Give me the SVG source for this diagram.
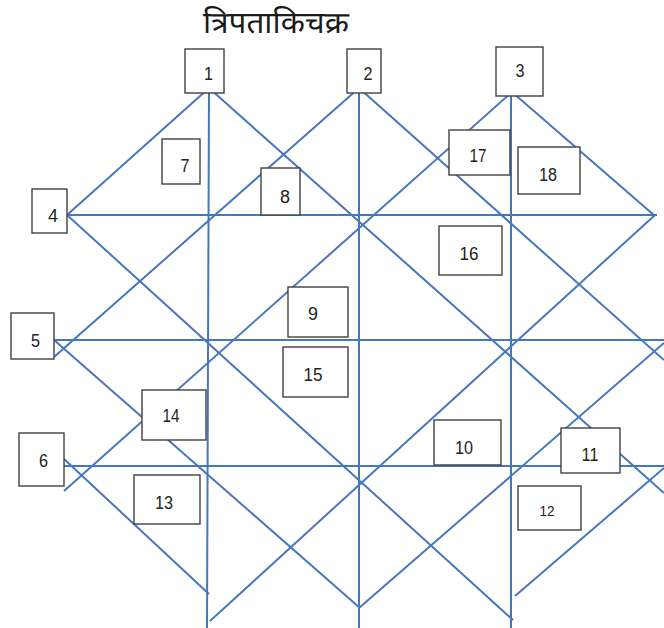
<svg xmlns="http://www.w3.org/2000/svg" width="664" height="628" viewBox="0 0 664 628">
<style>
.ln{stroke:#4677be;stroke-width:2;fill:none}
.bx rect{fill:#fff;stroke:#404040;stroke-width:1.4}
.bx text{font-family:"Liberation Sans",Arial,sans-serif;font-size:18px;fill:#222;text-anchor:middle}
.title{font-family:"Noto Sans Devanagari","Noto Sans","Lohit Devanagari",sans-serif;font-size:30px;fill:#1a1a1a;text-anchor:middle}
</style>
<rect width="664" height="628" fill="#fff"/>
<text class="title" x="276" y="33" textLength="146" lengthAdjust="spacingAndGlyphs">त्रिपताकिचक्र</text>
<g id="connectors">
<line class="ln" x1="67" y1="215" x2="657" y2="215"/>
<line class="ln" x1="54" y1="340" x2="664" y2="340"/>
<line class="ln" x1="64" y1="466" x2="664" y2="466"/>
<line class="ln" x1="209" y1="88" x2="207" y2="628"/>
<line class="ln" x1="359" y1="88" x2="359" y2="628"/>
<line class="ln" x1="511" y1="87" x2="511" y2="628"/>
<line class="ln" x1="209" y1="88" x2="67" y2="215"/>
<line class="ln" x1="209" y1="88" x2="664" y2="493"/>
<line class="ln" x1="359" y1="88" x2="54" y2="357"/>
<line class="ln" x1="359" y1="88" x2="664" y2="360"/>
<line class="ln" x1="512" y1="92" x2="64" y2="491"/>
<line class="ln" x1="512" y1="92" x2="655" y2="216"/>
<line class="ln" x1="67" y1="215" x2="513" y2="620"/>
<line class="ln" x1="54" y1="340" x2="360" y2="608"/>
<line class="ln" x1="64" y1="459" x2="209" y2="594"/>
<line class="ln" x1="655" y1="215" x2="210" y2="621"/>
<line class="ln" x1="359" y1="608" x2="664" y2="343"/>
<line class="ln" x1="515" y1="596" x2="664" y2="468"/>
</g>
<g id="n1" class="bx"><rect x="185" y="49" width="39" height="44"/><text x="208.5" y="80" textLength="9" lengthAdjust="spacingAndGlyphs">1</text></g>
<g id="n2" class="bx"><rect x="347" y="49" width="34" height="44"/><text x="368" y="80" textLength="9" lengthAdjust="spacingAndGlyphs">2</text></g>
<g id="n3" class="bx"><rect x="496" y="47" width="47" height="49"/><text x="520" y="77" textLength="9" lengthAdjust="spacingAndGlyphs">3</text></g>
<g id="n4" class="bx"><rect x="32" y="189" width="35" height="44"/><text x="53" y="222" textLength="10" lengthAdjust="spacingAndGlyphs">4</text></g>
<g id="n5" class="bx"><rect x="11" y="313" width="43" height="46"/><text x="35.5" y="347" textLength="9" lengthAdjust="spacingAndGlyphs">5</text></g>
<g id="n6" class="bx"><rect x="19" y="433" width="45" height="53"/><text x="43.5" y="467" textLength="9" lengthAdjust="spacingAndGlyphs">6</text></g>
<g id="n7" class="bx"><rect x="162" y="139" width="38" height="45"/><text x="185" y="172" textLength="9" lengthAdjust="spacingAndGlyphs">7</text></g>
<g id="n8" class="bx"><rect x="261" y="168" width="39" height="47"/><text x="285" y="203" textLength="10" lengthAdjust="spacingAndGlyphs">8</text></g>
<g id="n9" class="bx"><rect x="288" y="287" width="60" height="50"/><text x="313" y="320" textLength="10" lengthAdjust="spacingAndGlyphs">9</text></g>
<g id="n10" class="bx"><rect x="434" y="420" width="67" height="45"/><text x="464" y="454" textLength="18" lengthAdjust="spacingAndGlyphs">10</text></g>
<g id="n11" class="bx"><rect x="561" y="428" width="59" height="45"/><text x="590" y="461" textLength="17" lengthAdjust="spacingAndGlyphs">11</text></g>
<g id="n12" class="bx"><rect x="518" y="486" width="63" height="44"/><text x="547" y="516" style="font-size:15px" textLength="15" lengthAdjust="spacingAndGlyphs">12</text></g>
<g id="n13" class="bx"><rect x="134" y="475" width="66" height="49"/><text x="164" y="509" textLength="18" lengthAdjust="spacingAndGlyphs">13</text></g>
<g id="n14" class="bx"><rect x="142" y="390" width="64" height="50"/><text x="171" y="422" textLength="17" lengthAdjust="spacingAndGlyphs">14</text></g>
<g id="n15" class="bx"><rect x="283" y="347" width="65" height="50"/><text x="313" y="381" textLength="19" lengthAdjust="spacingAndGlyphs">15</text></g>
<g id="n16" class="bx"><rect x="439" y="226" width="63" height="49"/><text x="469" y="260" textLength="19" lengthAdjust="spacingAndGlyphs">16</text></g>
<g id="n17" class="bx"><rect x="449" y="130" width="61" height="45"/><text x="478" y="162" textLength="17" lengthAdjust="spacingAndGlyphs">17</text></g>
<g id="n18" class="bx"><rect x="518" y="147" width="62" height="47"/><text x="548" y="181" textLength="18" lengthAdjust="spacingAndGlyphs">18</text></g>
</svg>
